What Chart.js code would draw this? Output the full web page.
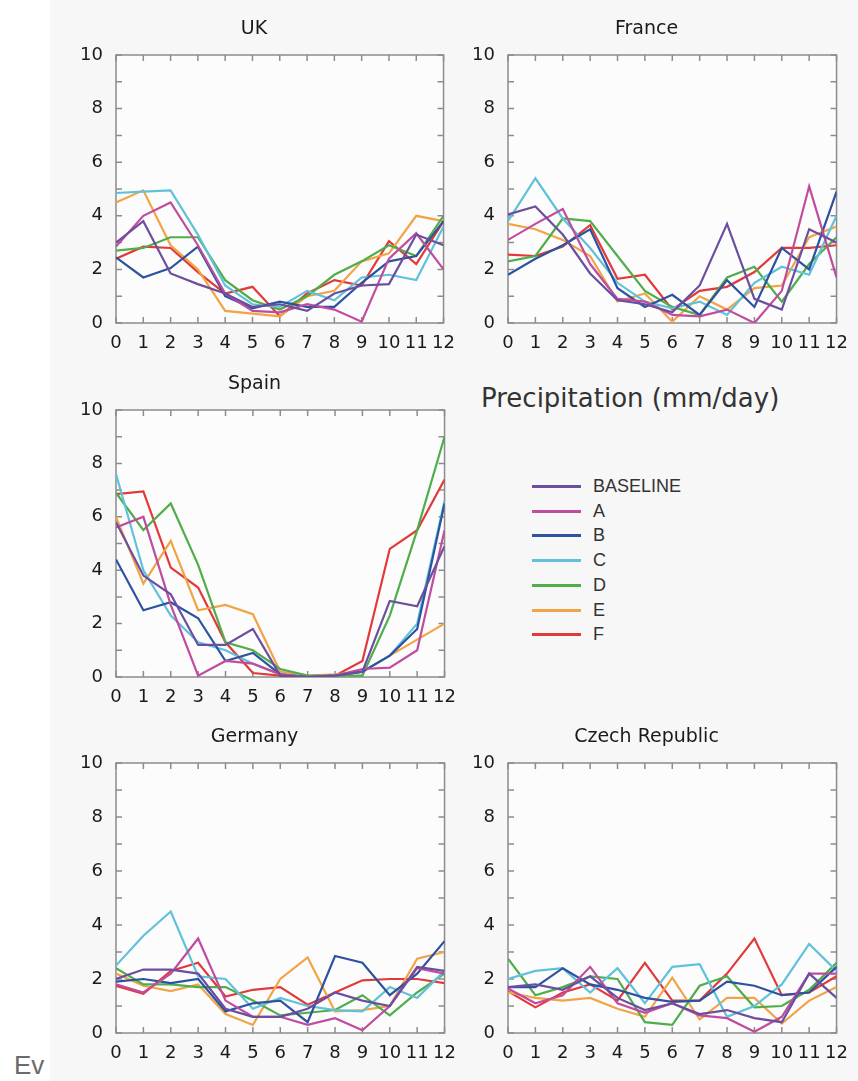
<!DOCTYPE html>
<html>
<head>
<meta charset="utf-8">
<script src="https://cdn.jsdelivr.net/npm/chart.js@4.4.1/dist/chart.umd.min.js"></script>
<style>
  html, body { margin: 0; padding: 0; background: #ffffff; }
  body { width: 858px; height: 1081px; position: relative; overflow: hidden; font-family: "DejaVu Sans", sans-serif; }
  #fig { position: absolute; left: 50px; top: 0; width: 808px; height: 1081px; background: #f7f7f7; }
  canvas { position: absolute; }
  #legTitle { position: absolute; left: 481px; top: 382px; font-size: 26px; line-height: 32px; color: #333; white-space: nowrap; }
  .legRow { position: absolute; left: 532px; height: 24px; width: 200px; }
  .legLine { position: absolute; left: 0; top: 11px; width: 49px; height: 3px; }
  .legText { position: absolute; left: 61px; top: 0; font-family: "Liberation Sans", Arial, sans-serif; font-size: 18px; line-height: 24px; color: #333; }
  #ev { position: absolute; left: 14px; top: 1050px; font-family: "Liberation Sans", Arial, sans-serif; font-size: 26px; line-height: 30px; color: #6a6a6a; }
</style>
</head>
<body>
<div id="fig"></div>
<canvas id="cUK" width="405" height="353" style="left:60px;top:0px"></canvas>
<canvas id="cFR" width="406" height="353" style="left:452px;top:0px"></canvas>
<canvas id="cES" width="406" height="352" style="left:60px;top:355px"></canvas>
<canvas id="cDE" width="406" height="355" style="left:60px;top:708px"></canvas>
<canvas id="cCZ" width="406" height="355" style="left:452px;top:708px"></canvas>
<div id="legTitle">Precipitation (mm/day)</div>
<div id="legend"></div>
<div id="ev">Ev</div>
<script>
// ---- categories / ticks ----
const months = [0,1,2,3,4,5,6,7,8,9,10,11,12];
const yTicks = [0,2,4,6,8,10];
const seriesNames = ['BASELINE','A','B','C','D','E','F'];
const seriesColors = ['#6b4e9e','#c04c9e','#2d52a0','#5fc2da','#4fae4a','#f1a445','#e2393a'];
const panelTitles = ['UK','France','Spain','Germany','Czech Republic'];
const legendTitle = 'Precipitation (mm/day)';

// ---- UK ----
const UK_BASELINE = [3.0,3.8,1.85,1.45,1.1,0.6,0.7,0.45,1.1,1.4,1.45,3.3,2.9];
const UK_A        = [2.85,4.0,4.5,2.9,1.1,0.45,0.4,0.7,0.5,0.05,2.4,3.35,2.0];
const UK_B        = [2.45,1.7,2.05,2.85,1.0,0.55,0.8,0.6,0.6,1.5,2.3,2.5,3.8];
const UK_C        = [4.85,4.9,4.95,3.3,1.4,0.7,0.6,1.2,0.85,1.7,1.8,1.6,3.6];
const UK_D        = [2.7,2.8,3.2,3.2,1.6,0.85,0.5,1.0,1.8,2.3,2.9,2.5,4.0];
const UK_E        = [4.5,4.95,2.9,2.0,0.45,0.35,0.25,1.0,1.2,2.3,2.6,4.0,3.8];
const UK_F        = [2.4,2.85,2.8,1.9,1.1,1.35,0.25,1.1,1.6,1.4,3.05,2.2,3.8];

// ---- France ----
const FR_BASELINE = [4.05,4.35,3.3,1.85,0.85,0.7,0.4,1.4,3.7,0.9,0.5,3.5,3.0];
const FR_A        = [3.1,3.7,4.25,2.2,0.9,0.8,0.3,0.25,0.5,0.0,1.2,5.1,1.7];
const FR_B        = [1.8,2.4,2.9,3.5,1.3,0.6,1.05,0.3,1.6,0.6,2.8,2.0,4.9];
const FR_C        = [3.8,5.4,3.9,2.8,1.5,0.8,0.55,0.8,0.3,1.5,2.1,1.8,4.0];
const FR_D        = [2.3,2.5,3.9,3.8,2.5,1.2,0.6,0.3,1.7,2.1,0.8,2.2,3.2];
const FR_E        = [3.7,3.5,3.1,2.5,0.8,1.1,0.05,1.0,0.5,1.3,1.4,3.2,3.6];
const FR_F        = [2.55,2.5,2.85,3.65,1.65,1.8,0.5,1.2,1.35,1.9,2.8,2.8,2.9];

// ---- Spain ----
const ES_BASELINE = [5.8,3.8,3.1,1.2,1.2,1.8,0.05,0.0,0.05,0.2,2.85,2.65,4.9];
const ES_A        = [5.6,6.0,2.7,0.05,0.6,0.5,0.1,0.0,0.05,0.3,0.35,1.0,5.5];
const ES_B        = [4.4,2.5,2.8,2.2,0.6,0.9,0.1,0.0,0.05,0.2,0.8,1.8,6.5];
const ES_C        = [7.6,4.0,2.3,1.3,1.0,0.5,0.1,0.0,0.05,0.2,0.8,2.0,6.6];
const ES_D        = [6.9,5.5,6.5,4.2,1.3,1.0,0.3,0.05,0.05,0.05,2.3,5.5,9.0];
const ES_E        = [6.0,3.5,5.1,2.5,2.7,2.35,0.2,0.05,0.1,0.2,0.8,1.4,2.0];
const ES_F        = [6.85,6.95,4.1,3.35,1.3,0.15,0.05,0.0,0.05,0.6,4.8,5.5,7.4];

// ---- Germany ----
const DE_BASELINE = [2.0,2.35,2.35,2.2,0.9,0.6,0.6,0.9,1.5,1.2,1.0,2.45,2.3];
const DE_A        = [1.8,1.5,2.2,3.5,1.2,0.6,0.6,0.3,0.55,0.1,1.0,2.4,2.2];
const DE_B        = [1.9,2.0,1.85,2.0,0.8,1.1,1.2,0.4,2.85,2.6,1.4,2.2,3.4];
const DE_C        = [2.5,3.6,4.5,2.1,2.0,0.9,1.3,1.0,0.85,0.8,1.7,1.3,2.3];
const DE_D        = [2.4,1.8,1.8,1.7,1.7,1.2,0.65,0.75,0.85,1.4,0.65,1.5,2.2];
const DE_E        = [2.2,1.75,1.55,1.8,0.7,0.3,2.0,2.8,0.8,0.85,1.0,2.75,3.0];
const DE_F        = [1.75,1.45,2.3,2.6,1.35,1.6,1.7,1.05,1.5,1.95,2.0,2.0,1.85];

// ---- Czech Republic ----
const CZ_BASELINE = [1.7,1.8,1.6,2.1,1.3,0.85,1.1,0.7,0.85,0.55,0.4,2.2,1.3];
const CZ_A        = [1.65,1.1,1.4,2.45,1.1,0.75,1.1,0.65,0.55,0.05,0.6,2.2,2.2];
const CZ_B        = [1.7,1.7,2.4,1.8,1.6,1.3,1.15,1.2,1.9,1.75,1.4,1.5,2.45];
const CZ_C        = [2.0,2.3,2.4,1.5,2.4,1.1,2.45,2.55,0.6,1.0,1.8,3.3,2.3];
const CZ_D        = [2.75,1.4,1.7,2.1,2.0,0.4,0.3,1.75,2.1,0.95,1.0,1.6,2.6];
const CZ_E        = [1.5,1.3,1.2,1.3,0.9,0.6,2.05,0.5,1.3,1.3,0.35,1.2,1.7];
const CZ_F        = [1.55,0.95,1.5,1.8,1.2,2.6,1.2,1.2,2.2,3.5,1.4,1.5,2.1];

const panelSeries = [
  [UK_BASELINE, UK_A, UK_B, UK_C, UK_D, UK_E, UK_F],
  [FR_BASELINE, FR_A, FR_B, FR_C, FR_D, FR_E, FR_F],
  [ES_BASELINE, ES_A, ES_B, ES_C, ES_D, ES_E, ES_F],
  [DE_BASELINE, DE_A, DE_B, DE_C, DE_D, DE_E, DE_F],
  [CZ_BASELINE, CZ_A, CZ_B, CZ_C, CZ_D, CZ_E, CZ_F]
];
const canvasIds = ['cUK','cFR','cES','cDE','cCZ'];

Chart.defaults.font.family = '"DejaVu Sans", sans-serif';
Chart.defaults.color = '#222';

const AXIS_COLOR = '#8c8c8c';
const TICK_LEN = 6;

const boxTicks = {
  id: 'boxTicks',
  beforeDraw(chart) {
    const { ctx, chartArea: a } = chart;
    ctx.save();
    ctx.fillStyle = '#fcfcfc';
    ctx.fillRect(a.left, a.top, a.right - a.left, a.bottom - a.top);
    ctx.restore();
  },
  beforeDatasetsDraw(chart) {
    const { ctx, chartArea: a, scales } = chart;
    const xs = scales.x, ys = scales.y;
    ctx.save();
    ctx.strokeStyle = AXIS_COLOR;
    ctx.lineWidth = 1.5;
    ctx.beginPath();
    months.forEach(m => {
      const px = xs.getPixelForValue(m);
      ctx.moveTo(px, a.bottom); ctx.lineTo(px, a.bottom - TICK_LEN);
      ctx.moveTo(px, a.top); ctx.lineTo(px, a.top + TICK_LEN);
    });
    for (let v = ys.min; v <= ys.max; v += 1) {
      const py = ys.getPixelForValue(v);
      ctx.moveTo(a.left, py); ctx.lineTo(a.left + TICK_LEN, py);
      ctx.moveTo(a.right, py); ctx.lineTo(a.right - TICK_LEN, py);
    }
    ctx.stroke();
    ctx.strokeRect(a.left, a.top, a.right - a.left, a.bottom - a.top);
    ctx.restore();
  }
};

panelSeries.forEach((series, p) => {
  const datasets = series.map((vals, i) => ({
    label: seriesNames[i],
    data: vals.map((v, k) => ({ x: months[k], y: v })),
    borderColor: seriesColors[i],
    backgroundColor: seriesColors[i],
    borderWidth: 2.2,
    pointRadius: 0,
    tension: 0,
    fill: false
  }));
  new Chart(document.getElementById(canvasIds[p]), {
    type: 'line',
    data: { datasets },
    plugins: [boxTicks],
    options: {
      responsive: false,
      animation: false,
      devicePixelRatio: 1,
      layout: { padding: { left: 0, right: 17, top: 0, bottom: 0 } },
      plugins: {
        legend: { display: false },
        tooltip: { enabled: false },
        title: {
          display: true,
          text: panelTitles[p],
          color: '#1a1a1a',
          font: { size: 19, weight: 'normal', lineHeight: 1.2 },
          padding: { top: 17.6, bottom: 14.6 }
        }
      },
      scales: {
        x: {
          type: 'linear',
          min: 0, max: 12,
          grid: { display: false, drawTicks: false },
          border: { display: false },
          afterFit: s => { s.height = 30; },
          afterBuildTicks: s => { s.ticks = months.map(v => ({ value: v })); },
          ticks: { autoSkip: false, maxRotation: 0, padding: 10, color: '#1a1a1a', font: { size: 18 } }
        },
        y: {
          type: 'linear',
          min: 0, max: 10,
          grid: { display: false, drawTicks: false },
          border: { display: false },
          afterFit: s => { s.width = 56; },
          afterBuildTicks: s => { s.ticks = yTicks.map(v => ({ value: v })); },
          ticks: { padding: 13, color: '#1a1a1a', font: { size: 18 } }
        }
      }
    }
  });
});

// legend (HTML), built from seriesNames/seriesColors
const legendTops = 474; const legendStep = 24.7;
const leg = document.getElementById('legend');
seriesNames.forEach((name, i) => {
  const row = document.createElement('div');
  row.className = 'legRow';
  row.style.top = (legendTops + i * legendStep) + 'px';
  const line = document.createElement('div');
  line.className = 'legLine';
  line.style.background = seriesColors[i];
  const txt = document.createElement('div');
  txt.className = 'legText';
  txt.textContent = name;
  row.appendChild(line); row.appendChild(txt);
  leg.appendChild(row);
});
</script>
</body>
</html>
